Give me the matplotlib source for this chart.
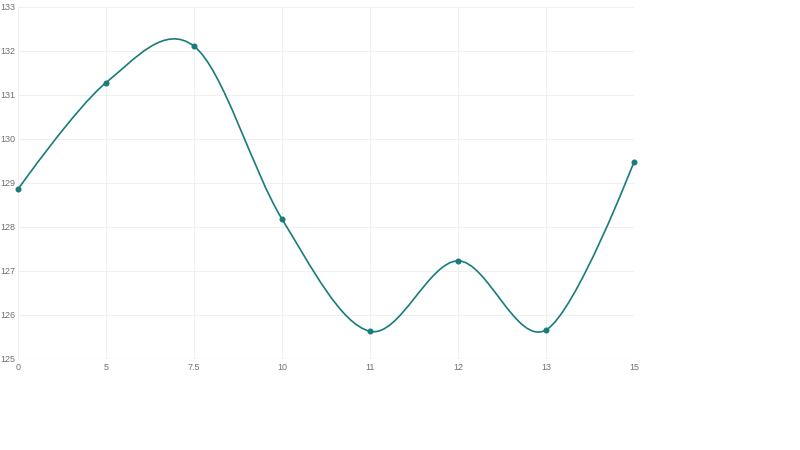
import numpy as np
import matplotlib
matplotlib.use("Agg")
import matplotlib.pyplot as plt
from matplotlib.path import Path
from matplotlib.patches import PathPatch

plt.rcParams['font.family'] = ['Liberation Sans', 'DejaVu Sans']

categories = ["0", "5", "7.5", "10", "11", "12", "13", "15"]
values = [128.86, 131.28, 132.11, 128.18, 125.63, 127.23, 125.66, 129.48]
y_ticks = [125, 126, 127, 128, 129, 130, 131, 132, 133]

color = "#187c7a"
grid_color = "#f0f0f0"
text_color = "#707070"

fig = plt.figure(figsize=(8, 4.5), dpi=100)
ax = fig.add_axes([18 / 800, 91 / 450, 616 / 800, 352 / 450])
ax.set_xlim(0, len(categories) - 1)
ax.set_ylim(125, 133)

for s in ax.spines.values():
    s.set_visible(False)
ax.set_xticks(range(len(categories)))
ax.set_xticklabels(categories)
ax.set_yticks(y_ticks)
ax.set_yticklabels([str(t) for t in y_ticks])
ax.tick_params(length=0, labelsize=6.5, colors=text_color)
ax.tick_params(axis="x", pad=3)
ax.tick_params(axis="y", pad=13)
for lab in ax.get_yticklabels():
    lab.set_horizontalalignment("left")
ax.grid(True, color=grid_color, linewidth=0.8)
ax.set_axisbelow(True)
ax.axhline(125, color="#e2e2e2", linewidth=0.8, zorder=1)

# cardinal (Catmull-Rom, tension 0) spline, d3-style end handling
xs = np.arange(len(values), dtype=float)
P = np.column_stack([xs, np.array(values, dtype=float)])
n = len(P)
k = 1 / 6
verts = [P[0]]
codes = [Path.MOVETO]
for i in range(n - 1):
    p0 = P[i - 1] if i > 0 else P[i + 1]
    p1, p2 = P[i], P[i + 1]
    p3 = P[i + 2] if i + 2 < n else P[i]
    c1 = p1 + k * (p2 - p0) if i > 0 else p1
    c2 = p2 - k * (p3 - p1) if i + 2 < n else p2
    verts += [c1, c2, p2]
    codes += [Path.CURVE4] * 3
ax.add_patch(PathPatch(Path(np.array(verts), codes), facecolor="none",
                       edgecolor=color, linewidth=1.2, zorder=3, clip_on=False))
ax.scatter(xs, values, s=11, color=color, zorder=4, clip_on=False)

fig.savefig("out.png", dpi=100)
